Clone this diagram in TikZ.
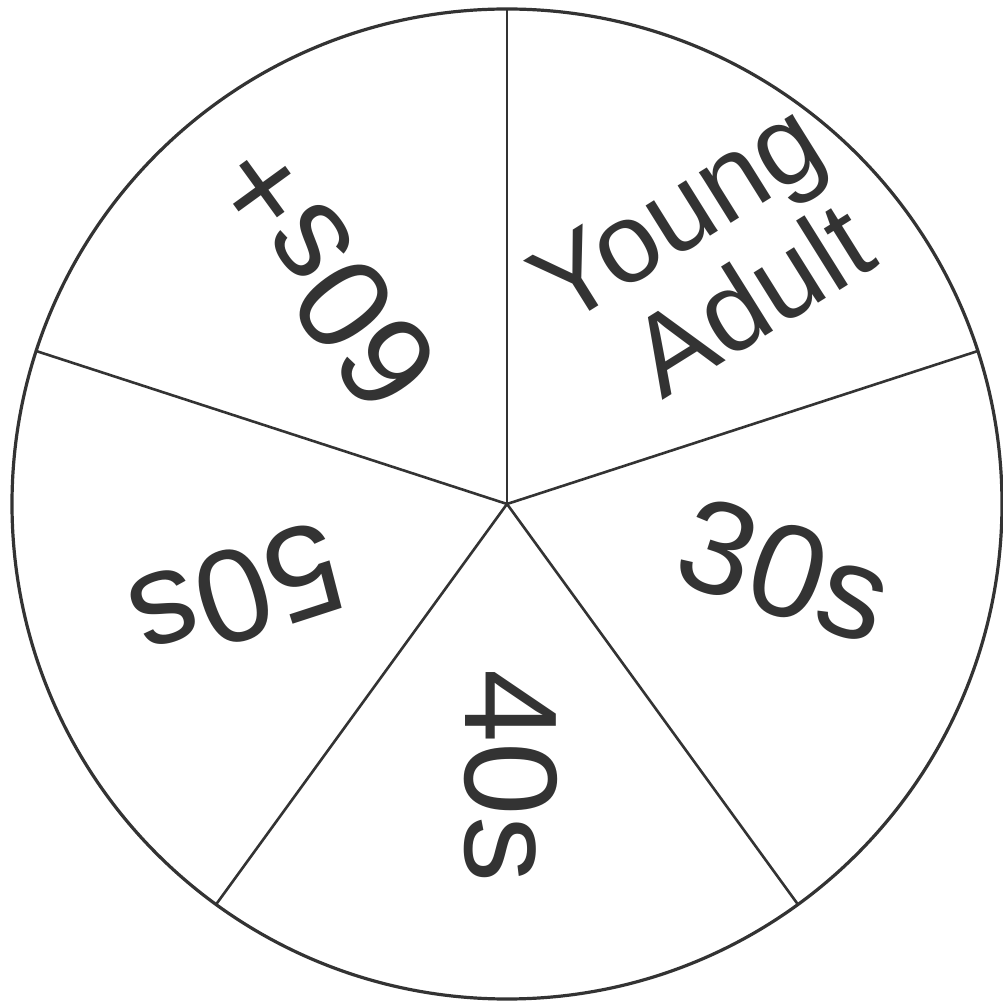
\documentclass[tikz,border=0pt]{standalone}
\usepackage{fontspec}
\setmainfont{Liberation Sans}
\usetikzlibrary{calc}
\begin{document}
\begin{tikzpicture}[x=1pt,y=1pt]
\definecolor{ink}{HTML}{333333}
\tikzset{
  rim/.style={draw=ink, line width=3.2pt},
  spoke/.style={draw=ink, line width=2.6pt},
  lbl/.style={text=ink, inner sep=0pt, align=center, font=\fontsize{132}{132}\selectfont},
  lblsmall/.style={lbl, font=\fontsize{113}{114}\selectfont}
}
\useasboundingbox (0,0) rectangle (1003,1005);
\coordinate (O) at (507,501);
\draw[rim] (O) circle (495);
\foreach \a/\n in {90/a,18/b,-54/c,-126/d,162/e}
  \coordinate (end\n) at ($(O)+(\a:495)$);
\foreach \n in {a,b,c,d,e}
  \draw[spoke] (O) -- (end\n);
\node[lblsmall, rotate=32] (ya) at (707,744.5) {Young\\\hspace*{34pt}Adult};
\node[lbl, rotate=-18] (l30) at (785,435) {30s};
\node[lbl, rotate=-90] (l40) at (511,229) {40s};
\node[lbl, rotate=198] (l50) at (237,410) {50s};
\node[lbl, rotate=126] (l60) at (324,729) {60s+};
\end{tikzpicture}
\end{document}
